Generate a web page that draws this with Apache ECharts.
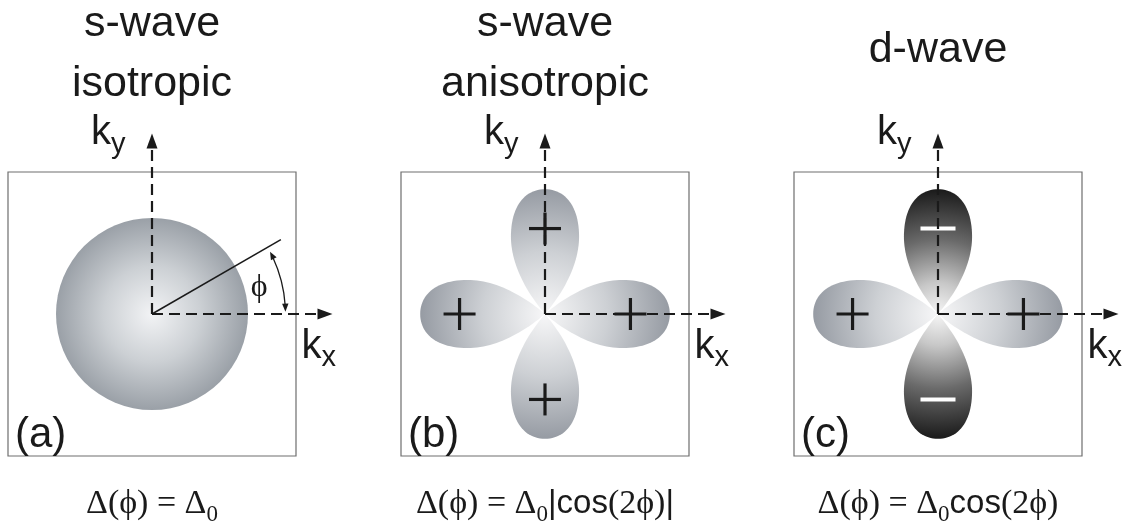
<!DOCTYPE html>
<html>
<head>
<meta charset="utf-8">
<script src="https://cdn.jsdelivr.net/npm/echarts@6/dist/echarts.min.js"></script>
<style>
  html, body { margin: 0; padding: 0; background: #ffffff; }
  #chart { width: 1132px; height: 529px; }
</style>
</head>
<body>
<div id="chart"></div>
<script>
// Superconducting gap Δ(φ) drawn in the kx–ky plane, lengths in units of Δ0.
const panelTags = ['(a)', '(b)', '(c)'];
const panelTitles = [['s-wave', 'isotropic'], ['s-wave', 'anisotropic'], ['d-wave']];
const gapFormulas = [
  '{s|Δ(ϕ) = Δ}{sub|0}',
  '{s|Δ(ϕ) = Δ}{sub|0}{a||cos}{s|(2ϕ)}{a||}',
  '{s|Δ(ϕ) = Δ}{sub|0}{a|cos}{s|(2ϕ)}'
];
const isotropicGap = [1.0];                 // |Δ| = Δ0 for every φ
const lobeAngles = [0, 90, 180, 270];       // lobe directions φ, degrees
const lobeLengthsB = [1.30, 1.30, 1.30, 1.30];
const lobeLengthsC = [1.30, 1.30, 1.30, 1.30];
const lobeSignsB = [1, 1, 1, 1];            // anisotropic s-wave: no sign change
const lobeSignsC = [1, -1, 1, -1];          // d-wave: sign alternates
const phiMarker = [30];                     // example angle φ, degrees
const axisReach = [1.88];                   // length of the kx / ky arrows

// ---- layout ----
const GRID_LEFT = [8, 401, 794];
const GRID_TOP = 172, GRID_W = 288, GRID_H = 284;
const X_EXT = 1.5, Y_EXT = 1.48;
const CENTER_X = GRID_LEFT.map(l => l + GRID_W / 2);

const SANS = '"Liberation Sans", Arial, "DejaVu Sans", sans-serif';
const SERIF = '"Liberation Serif", "Times New Roman", "DejaVu Serif", serif';
const INK = '#1a1a1a';

const LOBE_HALF_WIDTH = 0.355;
const SIGN_RADIUS = 0.89;

const DISC_STOPS = [
  { offset: 0, color: '#f2f3f5' },
  { offset: 0.5, color: '#ccd0d4' },
  { offset: 1, color: '#9aa0a7' }
];
const LIGHT_STOPS = [
  { offset: 0, color: '#f7f7f8' },
  { offset: 0.5, color: '#cdd0d4' },
  { offset: 1, color: '#969ba3' }
];
const DARK_STOPS = [
  { offset: 0, color: '#f6f6f6' },
  { offset: 0.25, color: '#c8c8c8' },
  { offset: 0.6, color: '#6a6a6a' },
  { offset: 1, color: '#1a1a1a' }
];

function radial(c, r, stops) {
  return { type: 'radial', x: c[0], y: c[1], r: r, colorStops: stops, global: true };
}

function seg(x1, y1, x2, y2, color, width, dash) {
  return {
    type: 'line',
    shape: { x1: x1, y1: y1, x2: x2, y2: y2 },
    style: { stroke: color, lineWidth: width, lineDash: dash || null, fill: null }
  };
}

function arrowHead(tip, dir, len, half, color) {
  const bx = tip[0] - dir[0] * len, by = tip[1] - dir[1] * len;
  const px = -dir[1], py = dir[0];
  return {
    type: 'polygon',
    shape: { points: [[tip[0], tip[1]], [bx + px * half, by + py * half], [bx - px * half, by - py * half]] },
    style: { fill: color }
  };
}

function cubicInto(out, p0, p1, p2, p3, n) {
  for (let k = 1; k <= n; k++) {
    const t = k / n, m = 1 - t;
    const a = m * m * m, b = 3 * m * m * t, c = 3 * m * t * t, d = t * t * t;
    out.push([a * p0[0] + b * p1[0] + c * p2[0] + d * p3[0],
              a * p0[1] + b * p1[1] + c * p2[1] + d * p3[1]]);
  }
}

// Isotropic gap: a disc of radius Δ0 centred at the origin
function renderDisc(params, api) {
  const c = api.coord([api.value(0), api.value(1)]);
  const r = api.size([api.value(2), 0])[0];
  return { type: 'circle', shape: { cx: c[0], cy: c[1], r: r }, style: { fill: radial(c, r, DISC_STOPS) } };
}

// One lobe of the anisotropic gap, plus its sign
function renderLobe(params, api) {
  const ang = api.value(0) * Math.PI / 180;
  const len = api.value(1);
  const sign = api.value(2);
  const o = api.coord([0, 0]);
  const L = api.size([len, 0])[0];
  const W = api.size([LOBE_HALF_WIDTH, 0])[0];
  const cs = Math.cos(ang), sn = Math.sin(ang);
  const local = [[0, 0]];
  const B = [0.62 * L, W], T = [L, 0], Bm = [0.62 * L, -W];
  cubicInto(local, [0, 0], [0.2 * L, 0.17 * L], [0.42 * L, W], B, 24);
  cubicInto(local, B, [0.86 * L, W], [L, 0.6 * W], T, 24);
  cubicInto(local, T, [L, -0.6 * W], [0.86 * L, -W], Bm, 24);
  cubicInto(local, Bm, [0.42 * L, -W], [0.2 * L, -0.17 * L], [0, 0], 24);
  const pts = local.map(p => [o[0] + p[0] * cs - p[1] * sn, o[1] - (p[0] * sn + p[1] * cs)]);

  const R = api.size([SIGN_RADIUS, 0])[0];
  const sx = o[0] + R * cs, sy = o[1] - R * sn;
  const children = [{
    type: 'polygon',
    shape: { points: pts },
    style: { fill: radial(o, L, sign < 0 ? DARK_STOPS : LIGHT_STOPS) }
  }];
  if (sign > 0) {
    children.push(seg(sx - 16, sy, sx + 16, sy, INK, 3.2));
    children.push(seg(sx, sy - 16, sx, sy + 16, INK, 3.2));
  } else {
    children.push(seg(sx - 17.5, sy, sx + 17.5, sy, '#ffffff', 4));
  }
  return { type: 'group', children: children };
}

// Dashed kx / ky axes with arrow heads and their labels
function renderAxis(params, api) {
  const o = api.coord([0, 0]);
  const tip = api.coord([api.value(0), api.value(1)]);
  const isX = api.value(0) > 0;
  const dx = tip[0] - o[0], dy = tip[1] - o[1];
  const n = Math.hypot(dx, dy);
  const dir = [dx / n, dy / n];
  const headLen = 15;
  const children = [
    seg(o[0], o[1], tip[0] - dir[0] * headLen, tip[1] - dir[1] * headLen, INK, 2.2, [11, 6]),
    arrowHead(tip, dir, headLen, 5.5, INK)
  ];
  const sub = isX ? 'x' : 'y';
  const lx = isX ? tip[0] - 31 : tip[0] - 61;
  const baseline = isX ? tip[1] + 45 : tip[1] + 12;
  children.push({
    type: 'text',
    style: {
      text: '{k|k}{s|' + sub + '}',
      x: lx, y: baseline - 32.4,
      align: 'left', verticalAlign: 'top',
      rich: {
        k: { fontFamily: SANS, fontSize: 40, lineHeight: 40, verticalAlign: 'top', fill: INK },
        s: { fontFamily: SANS, fontSize: 29, lineHeight: 46, verticalAlign: 'bottom', fill: INK }
      }
    }
  });
  return { type: 'group', children: children };
}

// Angle φ indicator: radius line and double-headed arc
function renderPhi(params, api) {
  const phi = api.value(0) * Math.PI / 180;
  const o = api.coord([0, 0]);
  const lineLen = api.size([1.55, 0])[0];
  const arcR = api.size([1.39, 0])[0];
  const a0 = 1 * Math.PI / 180, a1 = phi - 2.2 * Math.PI / 180;
  const p = (r, a) => [o[0] + r * Math.cos(a), o[1] - r * Math.sin(a)];
  const end = p(lineLen, phi);
  const topTip = p(arcR, a1), botTip = p(arcR, a0);
  const lab = p(api.size([1.15, 0])[0], 14 * Math.PI / 180);
  return {
    type: 'group',
    children: [
      seg(o[0], o[1], end[0], end[1], INK, 1.5),
      {
        type: 'arc',
        shape: { cx: o[0], cy: o[1], r: arcR, startAngle: -a1 + 0.05, endAngle: -a0 - 0.05, clockwise: true },
        style: { stroke: INK, lineWidth: 1.3, fill: null }
      },
      arrowHead(topTip, [-Math.sin(a1), -Math.cos(a1)], 8, 3.2, INK),
      arrowHead(botTip, [Math.sin(a0), Math.cos(a0)], 8, 3.2, INK),
      {
        type: 'text',
        style: {
          text: 'ϕ', x: lab[0], y: lab[1],
          align: 'center', verticalAlign: 'middle',
          font: '32px ' + SERIF, fill: INK
        }
      }
    ]
  };
}

const grids = GRID_LEFT.map(l => ({
  left: l, top: GRID_TOP, width: GRID_W, height: GRID_H,
  show: true, borderColor: '#6e6e6e', borderWidth: 1.2, backgroundColor: 'transparent'
}));
const xAxes = GRID_LEFT.map((_, i) => ({ type: 'value', gridIndex: i, min: -X_EXT, max: X_EXT, show: false }));
const yAxes = GRID_LEFT.map((_, i) => ({ type: 'value', gridIndex: i, min: -Y_EXT, max: Y_EXT, show: false }));

function onGrid(i, name, renderItem, data) {
  return {
    type: 'custom', name: name, xAxisIndex: i, yAxisIndex: i,
    silent: true, animation: false, clip: false,
    renderItem: renderItem, data: data
  };
}

const axisData = [[axisReach[0], 0], [0, axisReach[0]]];
const series = [
  onGrid(0, 'isotropic s-wave', renderDisc, [[0, 0, isotropicGap[0]]]),
  onGrid(0, 'kx ky', renderAxis, axisData),
  onGrid(0, 'phi', renderPhi, [[phiMarker[0], 0]]),
  onGrid(1, 'anisotropic s-wave', renderLobe, lobeAngles.map((a, k) => [a, lobeLengthsB[k], lobeSignsB[k]])),
  onGrid(1, 'kx ky', renderAxis, axisData),
  onGrid(2, 'd-wave', renderLobe, lobeAngles.map((a, k) => [a, lobeLengthsC[k], lobeSignsC[k]])),
  onGrid(2, 'kx ky', renderAxis, axisData)
];

// Titles, panel tags and gap formulas
const graphics = [];
panelTitles.forEach((lines, i) => {
  const ys = lines.length === 2 ? [23.7, 83.7] : [49.7];
  lines.forEach((t, k) => graphics.push({
    type: 'text', x: CENTER_X[i], y: ys[k],
    style: { text: t, font: '43px ' + SANS, fill: INK, align: 'center', verticalAlign: 'middle' }
  }));
});
panelTags.forEach((t, i) => graphics.push({
  type: 'text', x: GRID_LEFT[i] + 7, y: 435,
  style: { text: t, font: '42px ' + SANS, fill: INK, align: 'left', verticalAlign: 'middle' }
}));
gapFormulas.forEach((f, i) => graphics.push({
  type: 'text', x: CENTER_X[i], y: 487.5,
  style: {
    text: f, align: 'center', verticalAlign: 'top',
    rich: {
      s: { fontFamily: SERIF, fontSize: 34, lineHeight: 34, verticalAlign: 'top', fill: INK },
      a: { fontFamily: SANS, fontSize: 33, lineHeight: 34, verticalAlign: 'top', fill: INK },
      sub: { fontFamily: SERIF, fontSize: 23, lineHeight: 39, verticalAlign: 'bottom', fill: INK }
    }
  }
}));

const chart = echarts.init(document.getElementById('chart'), null, { renderer: 'canvas' });
chart.setOption({
  backgroundColor: '#ffffff',
  animation: false,
  grid: grids,
  xAxis: xAxes,
  yAxis: yAxes,
  series: series,
  graphic: graphics
});
</script>
</body>
</html>
